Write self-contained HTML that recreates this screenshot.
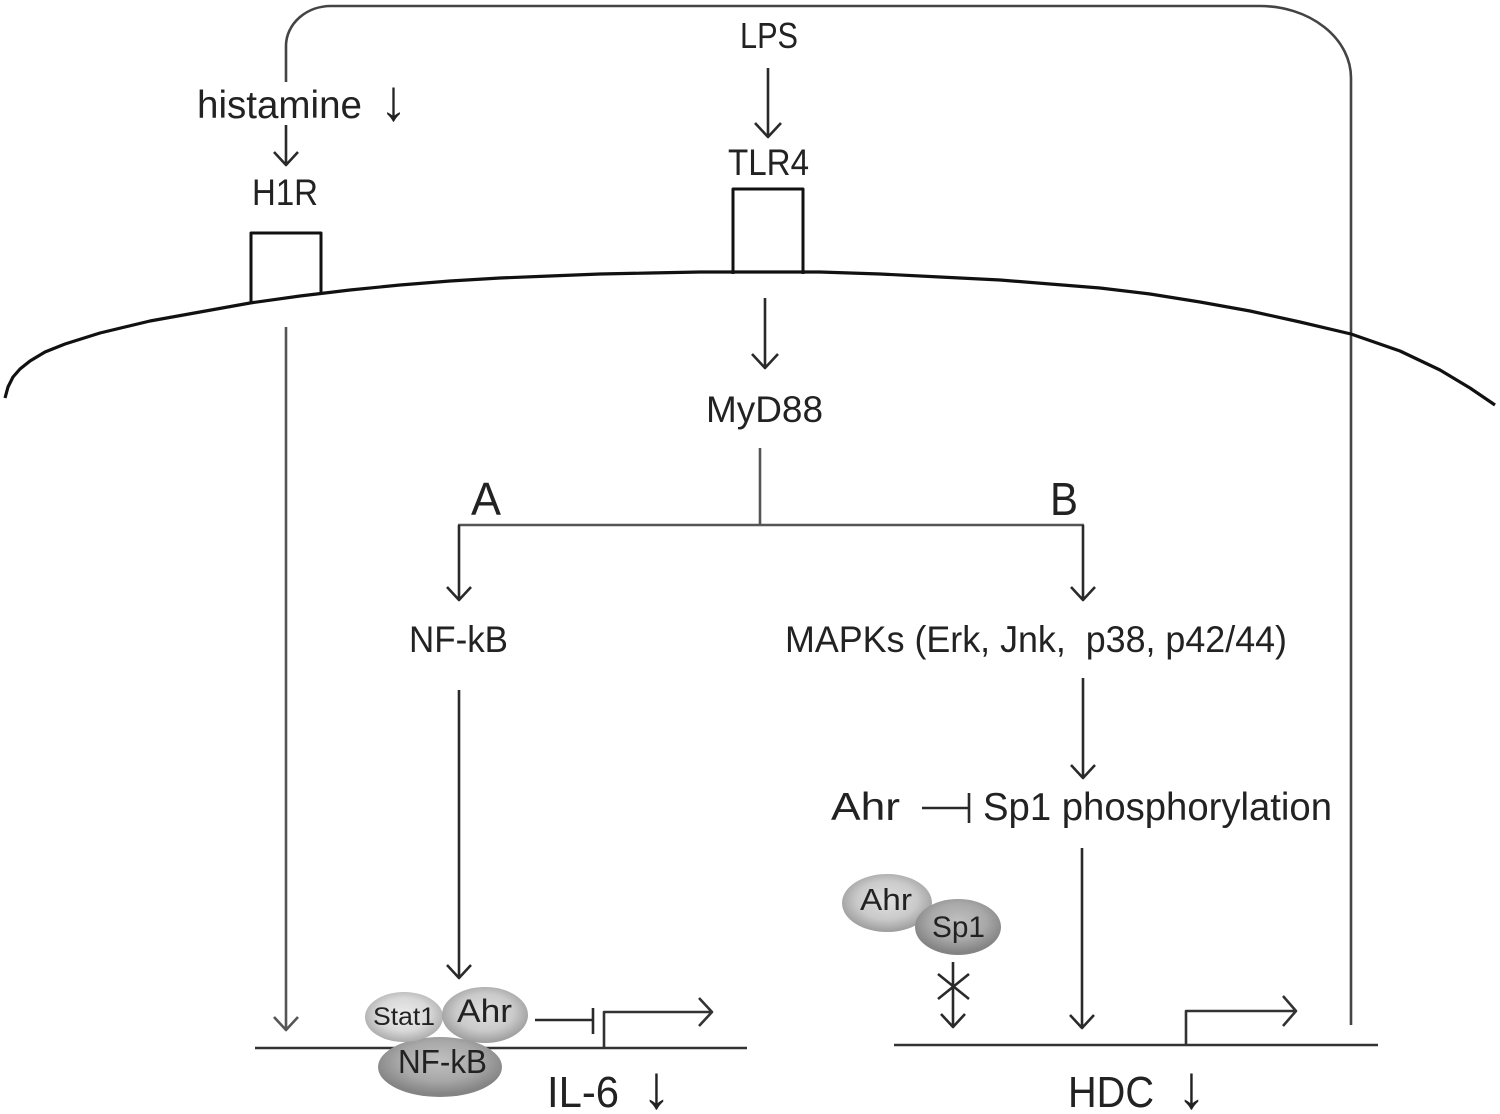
<!DOCTYPE html>
<html><head><meta charset="utf-8"><style>
html,body{margin:0;padding:0;background:#fff;}
svg{display:block;}
text{font-family:"Liberation Sans",sans-serif;fill:#222;}
</style></head><body>
<svg width="1500" height="1114" viewBox="0 0 1500 1114" xmlns="http://www.w3.org/2000/svg">
<defs>
<radialGradient id="gL" cx="50%" cy="45%" r="55%"><stop offset="0" stop-color="#ebebeb"/><stop offset="0.6" stop-color="#d8d8d8"/><stop offset="1" stop-color="#ababab"/></radialGradient>
<radialGradient id="gM" cx="50%" cy="45%" r="55%"><stop offset="0" stop-color="#e0e0e0"/><stop offset="0.6" stop-color="#cacaca"/><stop offset="1" stop-color="#9c9c9c"/></radialGradient>
<radialGradient id="gD" cx="50%" cy="40%" r="55%"><stop offset="0" stop-color="#c0c0c0"/><stop offset="0.6" stop-color="#a8a8a8"/><stop offset="1" stop-color="#848484"/></radialGradient>
</defs>
<g fill="none" stroke="#2a2a2a" stroke-width="2.6" stroke-linecap="butt" stroke-linejoin="round">
<!-- outer feedback frame -->
<path d="M286,82 V45 A45,40 0 0 1 331,6 H1260 A91,72 0 0 1 1351,78 V1025" stroke="#444"/>
<!-- membrane -->
<polyline stroke-width="3.2" stroke="#111" points="5,398 8,387 13,377 20,369 30,361 45,352 65,344 100,333 150,321 200,312 250,303 300,296 350,290 400,285 450,281 500,278 550,276 600,274 650,273 700,272 760,272 820,272 880,274 940,277 1000,280 1050,284 1100,288 1150,294 1200,302 1250,311 1300,322 1351,334 1400,351 1440,370 1470,388 1495,405"/>
<!-- receptors -->
<polyline points="251,302 251,233 321,233 321,294" stroke="#111" stroke-width="3"/>
<polyline points="733,274 733,189 803,189 803,274" stroke="#111" stroke-width="3"/>
<!-- arrows -->
<path d="M768,68 V137 M755,123 L768,137 L781,123"/>
<path d="M286,125 V165 M274,152 L286,165 L298,152"/>
<path d="M765,298 V368 M752,354 L765,368 L778,354"/>
<path d="M760,448 V525 M458,525 H1084" stroke="#555"/>
<path d="M459,525 V600 M447,587 L459,600 L471,587"/>
<path d="M1083,525 V600 M1071,587 L1083,600 L1095,587"/>
<path d="M459,690 V978 M447,965 L459,978 L471,965"/>
<path d="M286,327 V1030 M274,1017 L286,1030 L298,1017" stroke="#555"/>
<path d="M1083,678 V778 M1071,765 L1083,778 L1095,765"/>
<path d="M1082,848 V1028 M1070,1015 L1082,1028 L1094,1015"/>
<path d="M953,962 V1027 M941,1014 L953,1027 L965,1014 M938,974 L969,999 M938,999 L969,974"/>
<!-- inhibitions -->
<path d="M922,808 H968 M969,793 V823"/>
<path d="M535,1020 H592 M593,1008 V1034"/>
<!-- DNA lines -->
<path d="M255,1048 H747" stroke="#333"/>
<path d="M894,1045 H1378" stroke="#333"/>
<!-- promoters -->
<path d="M604,1048 V1012 H712 M699,998 L712,1012 L699,1026" stroke="#333"/>
<path d="M1186,1045 V1011 H1296 M1283,996 L1296,1011 L1283,1026" stroke="#333"/>
</g>
<!-- proteins bottom left -->
<ellipse cx="440" cy="1067" rx="62" ry="30" fill="url(#gD)"/>
<ellipse cx="404" cy="1017" rx="39" ry="25" fill="url(#gL)"/>
<ellipse cx="485" cy="1015" rx="43" ry="28" fill="url(#gM)"/>
<text x="373" y="1025" font-size="25" textLength="62" lengthAdjust="spacingAndGlyphs">Stat1</text>
<text x="457" y="1022" font-size="32" textLength="55" lengthAdjust="spacingAndGlyphs">Ahr</text>
<text x="398" y="1073" font-size="33" textLength="89" lengthAdjust="spacingAndGlyphs">NF-kB</text>
<!-- proteins right -->
<ellipse cx="887" cy="903" rx="45" ry="29" fill="url(#gM)"/>
<ellipse cx="958" cy="927" rx="43" ry="28" fill="url(#gD)"/>
<text x="860" y="910" font-size="31" textLength="52" lengthAdjust="spacingAndGlyphs">Ahr</text>
<text x="932" y="937" font-size="30" textLength="53" lengthAdjust="spacingAndGlyphs">Sp1</text>
<!-- labels -->
<text x="740" y="48" font-size="36" textLength="58" lengthAdjust="spacingAndGlyphs">LPS</text>
<text x="197" y="118" font-size="39" textLength="165" lengthAdjust="spacingAndGlyphs">histamine</text>
<text transform="translate(380,120) scale(1.6,1.7)" x="0" y="0" font-size="34">↓</text>
<text x="252" y="205" font-size="37" textLength="66" lengthAdjust="spacingAndGlyphs">H1R</text>
<text x="728" y="175" font-size="37" textLength="81" lengthAdjust="spacingAndGlyphs">TLR4</text>
<text x="706" y="422" font-size="37" textLength="117" lengthAdjust="spacingAndGlyphs">MyD88</text>
<text x="471" y="515" font-size="46" textLength="30" lengthAdjust="spacingAndGlyphs">A</text>
<text x="1050" y="515" font-size="46" textLength="28" lengthAdjust="spacingAndGlyphs">B</text>
<text x="409" y="652" font-size="37" textLength="99" lengthAdjust="spacingAndGlyphs">NF-kB</text>
<text x="785" y="652" font-size="37" textLength="502" lengthAdjust="spacingAndGlyphs" xml:space="preserve">MAPKs (Erk, Jnk,  p38, p42/44)</text>
<text x="831" y="820" font-size="39" textLength="69" lengthAdjust="spacingAndGlyphs">Ahr</text>
<text x="983" y="820" font-size="39" textLength="349" lengthAdjust="spacingAndGlyphs">Sp1 phosphorylation</text>
<text x="547" y="1107" font-size="44" textLength="72" lengthAdjust="spacingAndGlyphs">IL-6</text>
<text transform="translate(642,1108) scale(1.7,1.8)" x="0" y="0" font-size="34">↓</text>
<text x="1068" y="1107" font-size="44" textLength="86" lengthAdjust="spacingAndGlyphs">HDC</text>
<text transform="translate(1177,1108) scale(1.7,1.8)" x="0" y="0" font-size="34">↓</text>
</svg>
</body></html>
